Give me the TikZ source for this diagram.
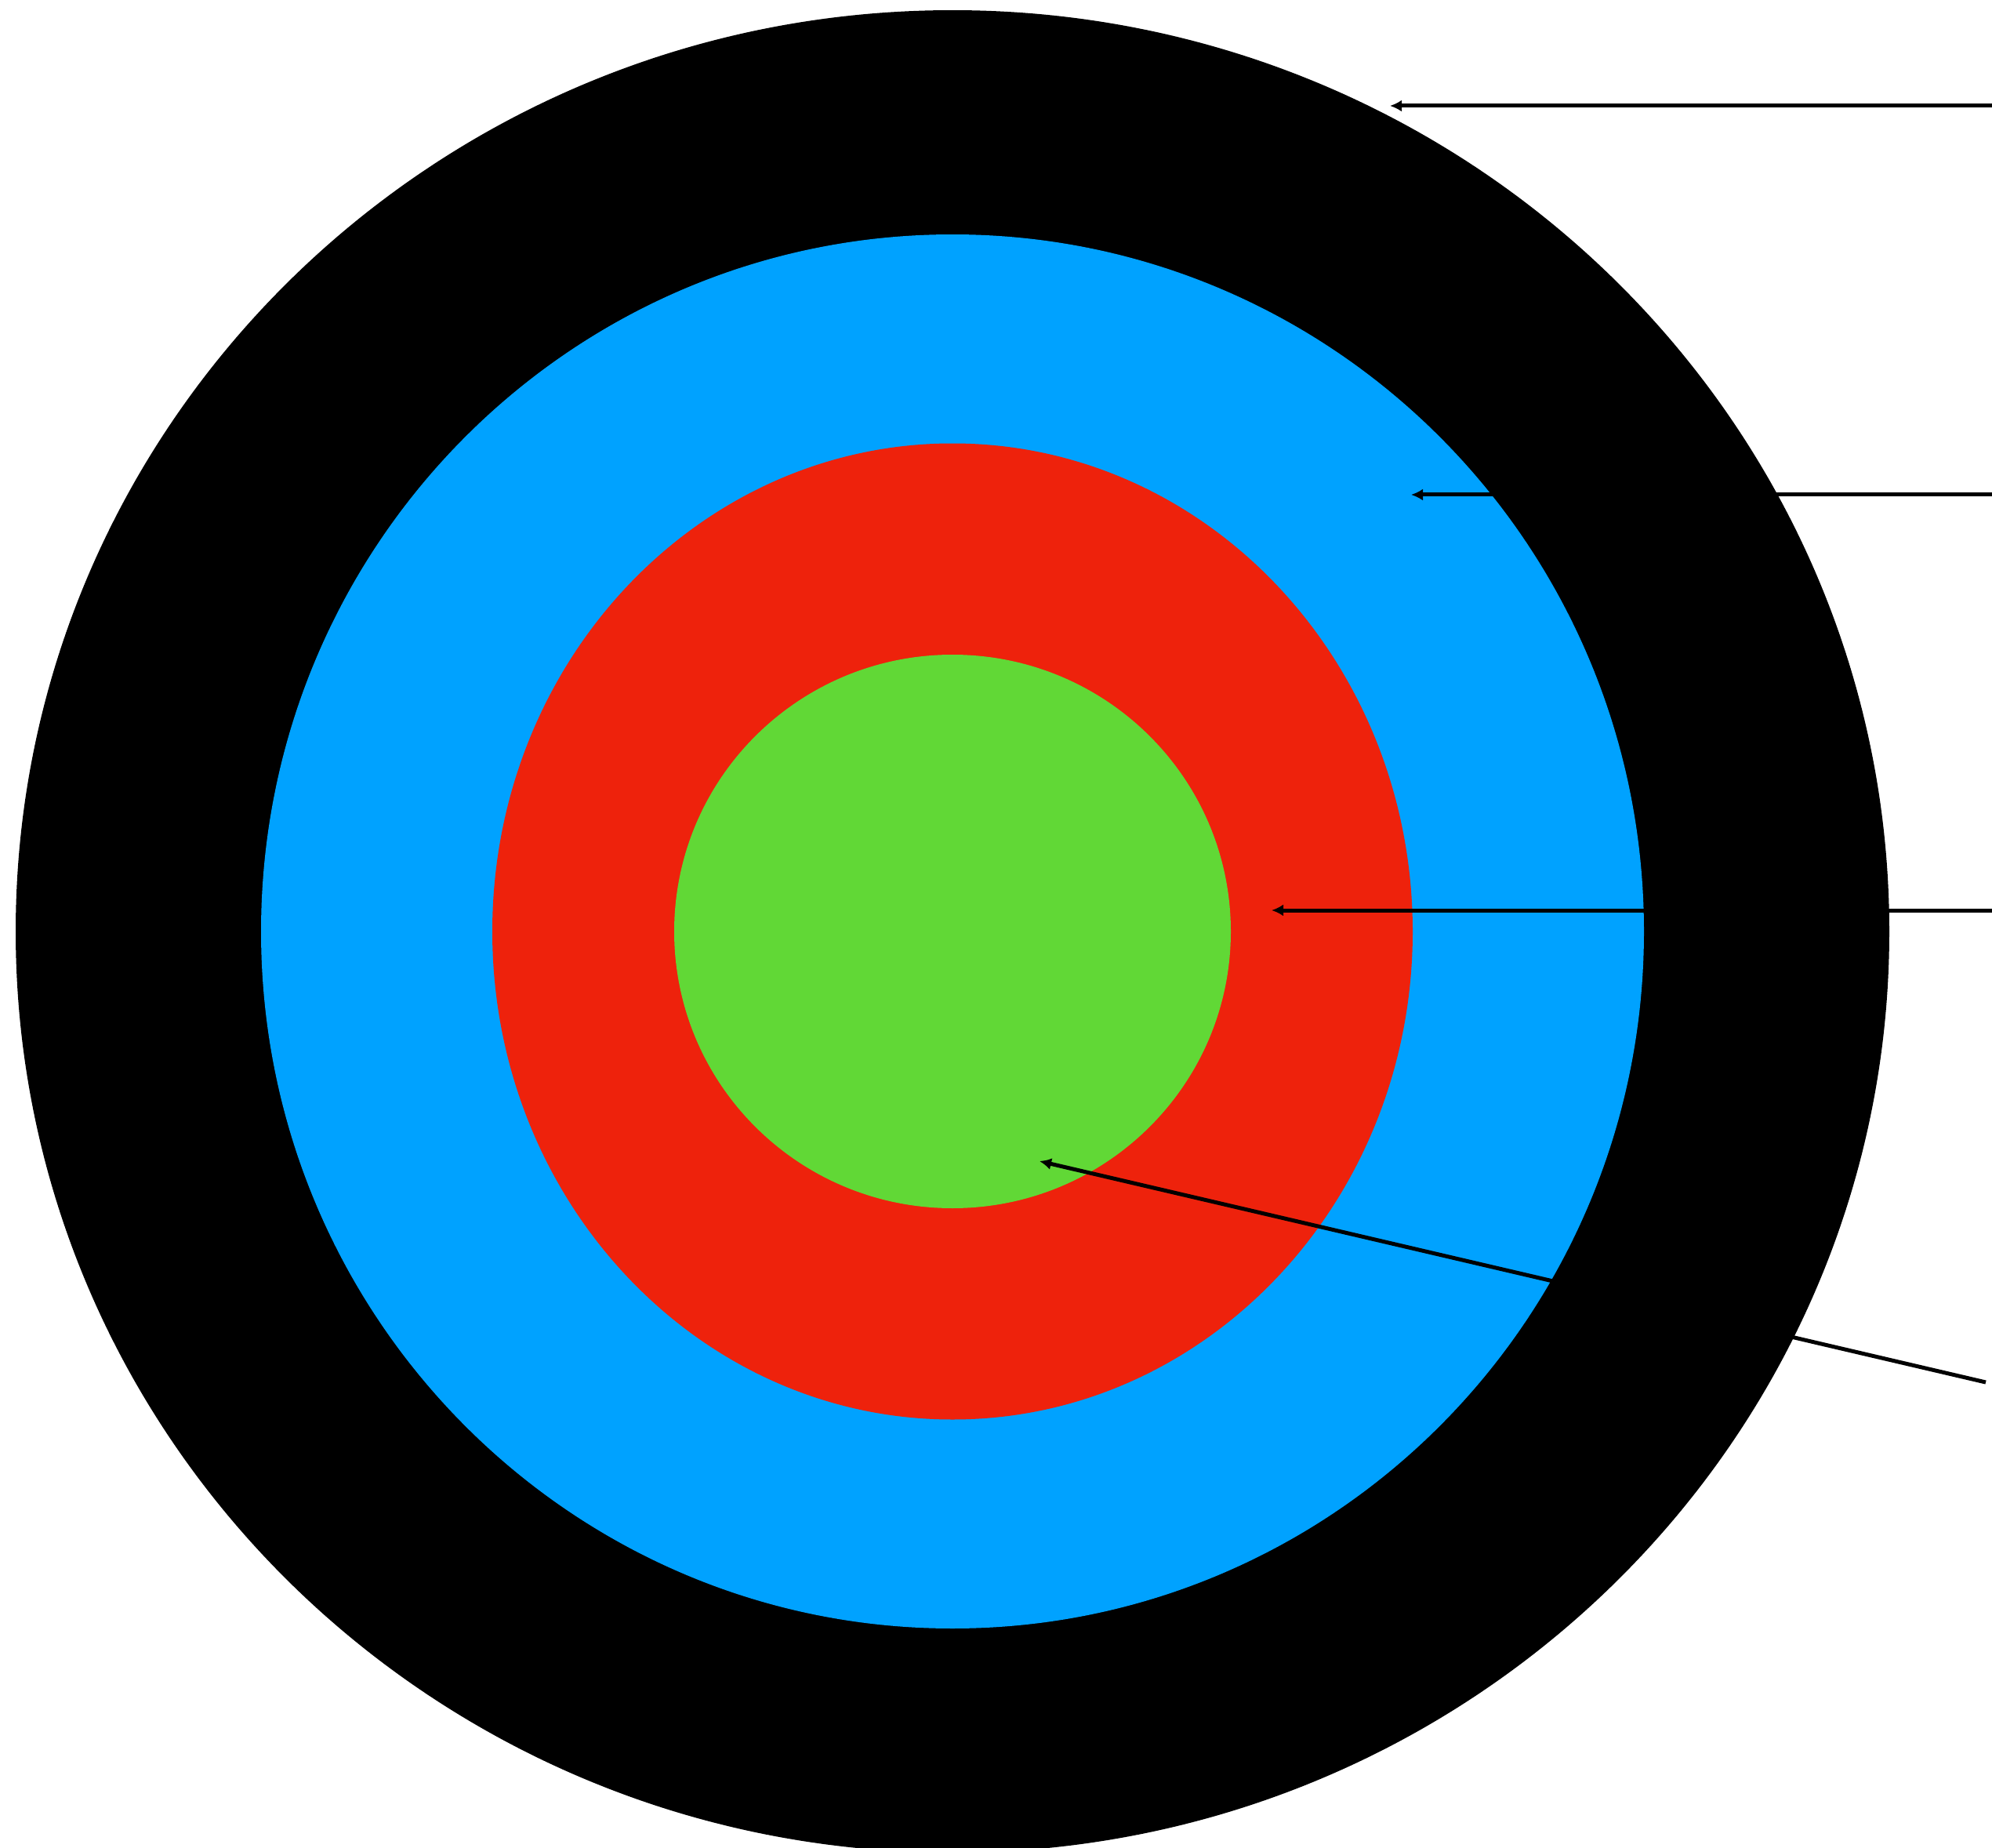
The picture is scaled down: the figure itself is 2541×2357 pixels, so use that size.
\documentclass[tikz,border=0pt]{standalone}
\usepackage{xcolor,tikz}
\usetikzlibrary{arrows.meta,shapes.geometric}
\definecolor{ringblue}{HTML}{00A2FF}
\definecolor{ringred}{HTML}{EE220C}
\definecolor{ringgreen}{HTML}{61D836}
\tikzset{ring/.style={ellipse,draw=none,inner sep=0pt,outer sep=0pt},
  pointer/.style={{Latex[length=1.5mm,width=1.5mm]}-,line width=0.5mm,draw=black}}

\begin{document}
\begin{tikzpicture}[x=0.1mm,y=-0.1mm]
\useasboundingbox (0,0) rectangle (2541,2357);
\clip (0,0) rectangle (2541,2357);
\node[ring,fill=black,minimum width=239mm,minimum height=235mm] (outer) at (1215,1188) {};
\node[ring,fill=ringblue,minimum width=176.4mm,minimum height=177.8mm] (second) at (outer.center) {};
\node[ring,fill=ringred,minimum width=117.4mm,minimum height=124.5mm] (third) at (outer.center) {};
\node[ring,fill=ringgreen,minimum width=71mm,minimum height=70.6mm] (inner) at (outer.center) {};
\coordinate (tipA) at (1773,135);
\coordinate (endA) at (2600,135);
\coordinate (tipB) at (1800,631);
\coordinate (endB) at (2600,631);
\coordinate (tipC) at (1622,1161);
\coordinate (endC) at (2600,1161);
\coordinate (tipD) at (1326,1481);
\coordinate (endD) at (2533,1763);
\draw[pointer] (tipA)--(endA);
\draw[pointer] (tipB)--(endB);
\draw[pointer] (tipC)--(endC);
\draw[pointer] (tipD)--(endD);
\end{tikzpicture}
\end{document}
